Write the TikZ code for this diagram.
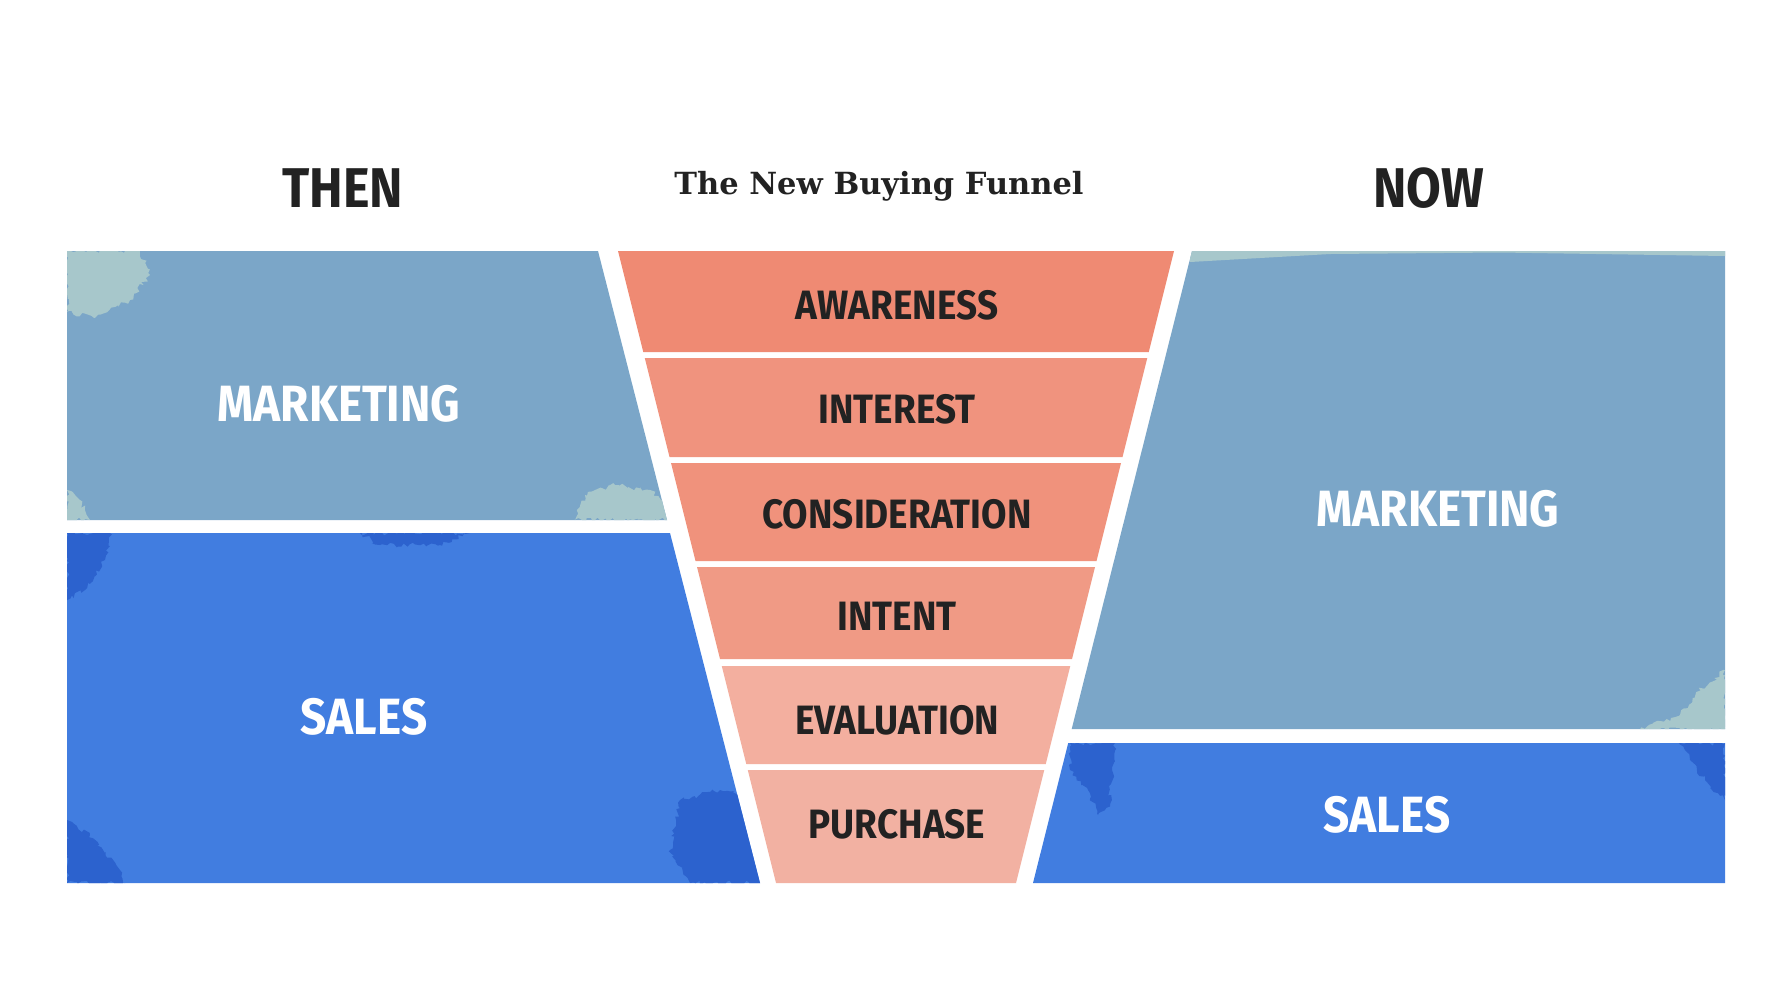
\documentclass[tikz,border=0pt]{standalone}
\usepackage{fontspec}
\usetikzlibrary{decorations.pathmorphing}
\newfontfamily\cond[FakeStretch=0.9]{Fira Sans Bold}
\newfontfamily\titlefont{DejaVu Serif}
\definecolor{mktblue}{HTML}{7BA6C8}
\definecolor{mktteal}{HTML}{A7C7CB}
\definecolor{salesblue}{HTML}{417DE0}
\definecolor{salesdark}{HTML}{2C62CE}
\definecolor{fA}{HTML}{EF8A73}
\definecolor{fB}{HTML}{F0937E}
\definecolor{fC}{HTML}{F0927C}
\definecolor{fD}{HTML}{F09A85}
\definecolor{fE}{HTML}{F3AF9F}
\definecolor{fF}{HTML}{F2B1A2}
\definecolor{ink}{HTML}{222222}
\tikzset{
  head/.style={font=\cond\fontsize{56}{60}\selectfont, text=ink, inner sep=0pt},
  paneltext/.style={font=\cond\fontsize{51}{55}\selectfont, text=white, inner sep=0pt},
  stagetext/.style={font=\cond\fontsize{41}{45}\selectfont, text=ink, inner sep=0pt},
  blot/.style={decorate, decoration={random steps, segment length=3pt, amplitude=2.5pt}},
}
\begin{document}
\begin{tikzpicture}[x=1pt,y=-1pt]
\useasboundingbox[fill=white] (0,0) rectangle (1790,994);
\pgfmathsetseed{7}

% ---- THEN side ----
\fill[mktblue] (67,251) -- (598,251) -- (667,520) -- (67,520) -- cycle;
\begin{scope}
  \clip (67,251) -- (598,251) -- (667,520) -- (67,520) -- cycle;
  \fill[mktteal, blot] (67,251) -- (140,251) -- (150,275) -- (130,300) -- (95,318) -- (67,312) -- cycle;
  \fill[mktteal, blot] (575,520) -- (585,495) -- (615,485) -- (650,490) -- (670,505) -- (670,520) -- cycle;
  \fill[mktteal, blot] (67,520) -- (67,490) -- (80,500) -- (90,520) -- cycle;
\end{scope}
\fill[salesblue] (67,533) -- (670,533) -- (760,883) -- (67,883) -- cycle;
\begin{scope}
  \clip (67,533) -- (670,533) -- (760,883) -- (67,883) -- cycle;
  \fill[salesdark, blot] (67,533) -- (110,533) -- (105,560) -- (85,590) -- (67,600) -- cycle;
  \fill[salesdark, blot] (67,883) -- (67,820) -- (90,835) -- (120,870) -- (125,883) -- cycle;
  \fill[salesdark, blot] (680,800) -- (720,790) -- (760,800) -- (770,883) -- (690,883) -- (670,850) -- cycle;
  \fill[salesdark, blot] (360,533) -- (470,533) -- (440,545) -- (380,545) -- cycle;
\end{scope}

% ---- funnel ----
\fill[fA] (618,251) -- (1174,251) -- (1148.75,352) -- (643.25,352) -- cycle;
\fill[fB] (644.75,358) -- (1147.25,358) -- (1122.5,457) -- (669.5,457) -- cycle;
\fill[fC] (671,463) -- (1121,463) -- (1096.5,561) -- (695.5,561) -- cycle;
\fill[fD] (697,567) -- (1095,567) -- (1072,659) -- (720,659) -- cycle;
\fill[fE] (721.75,666) -- (1070.25,666) -- (1045.75,764) -- (746.25,764) -- cycle;
\fill[fF] (747.75,770) -- (1044.25,770) -- (1016,883) -- (776,883) -- cycle;

% ---- NOW side ----
\fill[mktblue] (1192,251) -- (1725,251) -- (1725,729) -- (1071.7,729) -- cycle;
\begin{scope}
  \clip (1192,251) -- (1725,251) -- (1725,729) -- (1071.7,729) -- cycle;
  \fill[mktteal] (1190,251) -- (1725,251) -- (1725,256) -- (1500,252.5) -- (1330,254) -- (1190,262) -- cycle;
  \fill[mktteal, blot] (1725,729) -- (1640,729) -- (1680,715) -- (1700,690) -- (1725,670) -- cycle;
\end{scope}
\fill[salesblue] (1068.2,743) -- (1725,743) -- (1725,883) -- (1033,883) -- cycle;
\begin{scope}
  \clip (1068.2,743) -- (1725,743) -- (1725,883) -- (1033,883) -- cycle;
  \fill[salesdark, blot] (1070,743) -- (1115,743) -- (1112,770) -- (1110,805) -- (1098,815) -- (1088,790) -- (1070,770) -- cycle;
  \fill[salesdark, blot] (1680,743) -- (1725,743) -- (1725,800) -- (1705,780) -- (1690,760) -- cycle;
\end{scope}

% ---- headings ----
\node[head] (then) at (343,188) {THEN};
\node[head] (now) at (1429,188) {NOW};
\node[inner sep=0pt, text=ink, font=\titlefont\bfseries\fontsize{30.5}{33}\selectfont] (title) at (879,186) {The New Buying Funnel};

% ---- panel labels ----
\node[paneltext] (mktthen) at (339,404) {MARKETING};
\node[paneltext] (salesthen) at (364,717) {SALES};
\node[paneltext] (mktnow) at (1438,509) {MARKETING};
\node[paneltext] (salesnow) at (1387,815) {SALES};

% ---- funnel labels ----
\node[stagetext] (aw) at (897,305) {AWARENESS};
\node[stagetext] (in) at (897,409) {INTEREST};
\node[stagetext] (co) at (897,514) {CONSIDERATION};
\node[stagetext] (it) at (897,616) {INTENT};
\node[stagetext] (ev) at (897,720) {EVALUATION};
\node[stagetext] (pu) at (897,824) {PURCHASE};
\end{tikzpicture}
\end{document}
